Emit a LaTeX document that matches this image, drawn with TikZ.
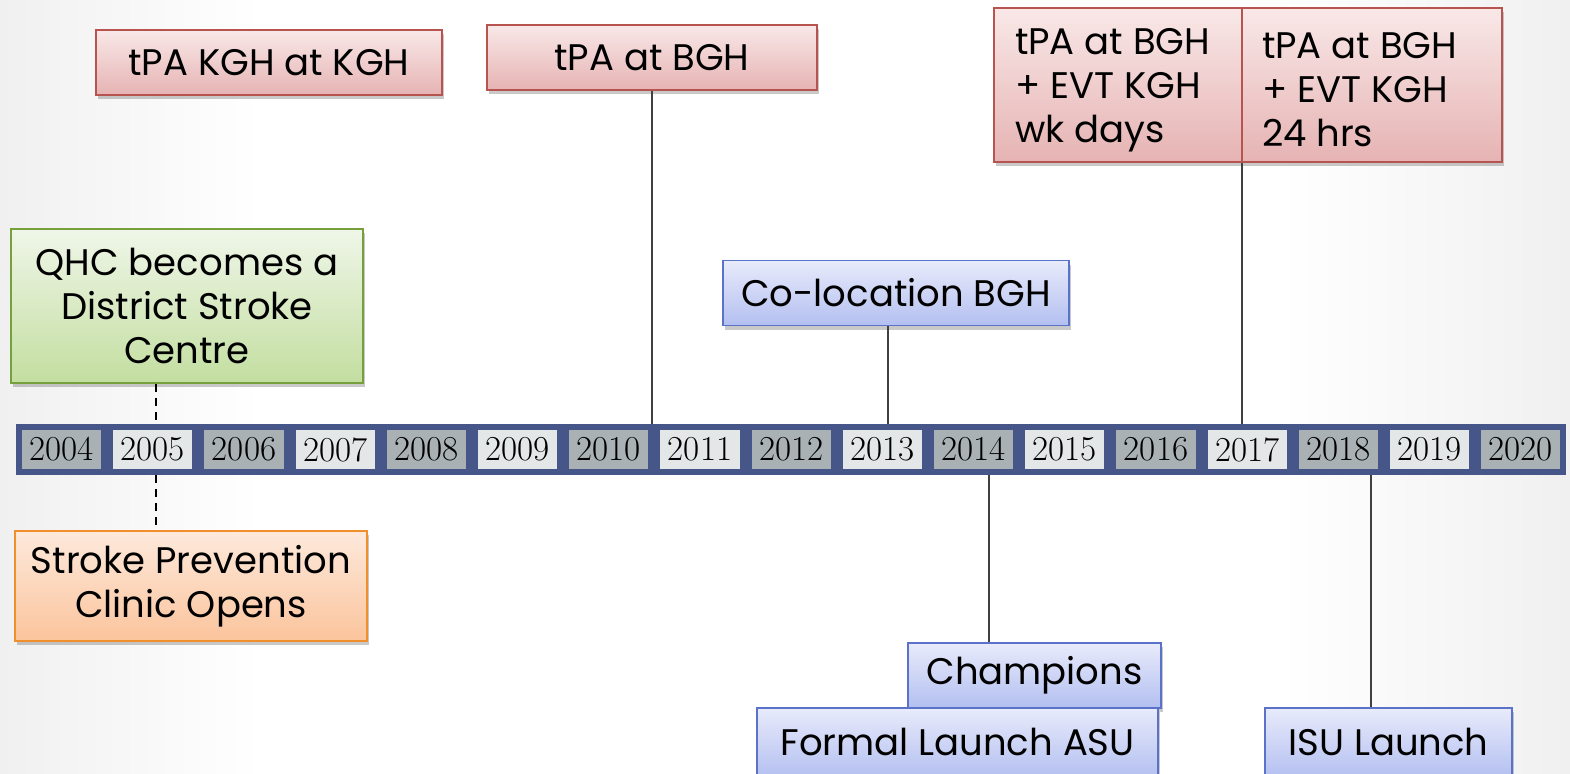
\documentclass[tikz,border=0pt]{standalone}
\usepackage{fontspec}
\newfontfamily\gothic{Poppins}
\usetikzlibrary{shadows,calc}
\definecolor{redline}{HTML}{B85450}
\definecolor{redtop}{HTML}{F9E8E8}
\definecolor{redbot}{HTML}{E6B3B3}
\definecolor{grnline}{HTML}{76A03C}
\definecolor{grntop}{HTML}{EFF6E8}
\definecolor{grnbot}{HTML}{C3DEA0}
\definecolor{orgline}{HTML}{F0902C}
\definecolor{orgtop}{HTML}{FDE9DC}
\definecolor{orgbot}{HTML}{FBC49C}
\definecolor{bluline}{HTML}{5A72C8}
\definecolor{blutop}{HTML}{E8EBFB}
\definecolor{blubot}{HTML}{B3BFF0}
\definecolor{cellline}{HTML}{465688}
\definecolor{celldark}{HTML}{A9B1B5}
\definecolor{celllight}{HTML}{E3E7E8}
\definecolor{conn}{HTML}{404040}
\definecolor{bgedge}{HTML}{F0F0F0}
\begin{document}
\begin{tikzpicture}[x=1pt,y=-1pt,
  evbox/.style={draw, line width=1.5pt, inner sep=0pt,
    font=\gothic\fontsize{37}{44}\selectfont,
    drop shadow={shadow xshift=2pt, shadow yshift=-4pt, opacity=0.35, fill=black!60}},
  redbox/.style={evbox, draw=redline, top color=redtop, bottom color=redbot},
  grnbox/.style={evbox, draw=grnline, top color=grntop, bottom color=grnbot},
  orgbox/.style={evbox, draw=orgline, top color=orgtop, bottom color=orgbot},
  blubox/.style={evbox, draw=bluline, top color=blutop, bottom color=blubot},
  yearcell/.style={draw=cellline, line width=6pt, minimum width=85.2pt, minimum height=45pt,
    inner sep=0pt, font=\fontsize{35}{35}\selectfont},
  yd/.style={yearcell, fill=celldark},
  yl/.style={yearcell, fill=celllight},
  link/.style={draw=conn, line width=1.5pt},
  dlink/.style={draw=black, line width=2pt, dash pattern=on 8pt off 6pt}
]
\useasboundingbox (0,0) rectangle (1570,773);
\fill[white] (0,0) rectangle (1570,773);
\shade[left color=bgedge, right color=white] (0,0) rectangle (260,773);
\shade[left color=white, right color=bgedge] (1280,0) rectangle (1570,773);

% timeline
\foreach \yr [count=\i from 0] in {2004,...,2020}{
  \pgfmathsetmacro\cx{16+91.2*(\i+0.5)}
  \pgfmathparse{mod(\i,2)==0 ? "yd" : "yl"}
  \edef\sty{\pgfmathresult}
  \node[\sty] (y\yr) at (\cx,449.5) {\yr};
}

% events
\node[redbox, minimum width=346pt, minimum height=65pt] (kgh) at (269,62.5) {tPA KGH at KGH};
\node[redbox, minimum width=330pt, minimum height=65pt] (bgh) at (652,57.5) {tPA at BGH};
\node[redbox, minimum width=248pt, minimum height=154pt] (evtw) at (1118,85)
  {\parbox{206pt}{\raggedright\vspace*{10pt}tPA at BGH\\+ EVT KGH\\wk days}};
\node[redbox, minimum width=260pt, minimum height=154pt] (evt24) at (1372,85)
  {\parbox{220pt}{\raggedright\vspace*{10pt}tPA at BGH\\+ EVT KGH\\24 hrs}};
\node[grnbox, minimum width=352pt, minimum height=154pt, align=center] (qhc) at (187,306) {QHC becomes a\\District Stroke\\Centre};
\node[orgbox, minimum width=352pt, minimum height=110pt, align=center] (spc) at (191,586) {Stroke Prevention\\Clinic Opens};
\node[blubox, minimum width=346pt, minimum height=65pt] (coloc) at (896,293) {Co-location BGH};
\node[blubox, minimum width=253pt, minimum height=65pt] (champ) at (1034.5,675.5) {Champions};
\node[blubox, minimum width=401pt, minimum height=70pt] (asu) at (957.5,743) {\raisebox{2pt}{Formal Launch ASU}};
\node[blubox, minimum width=247pt, minimum height=70pt] (isu) at (1388.5,743) {\raisebox{2pt}{ISU Launch}};

% connectors
\coordinate (xbgh) at (652,0);
\coordinate (xevt) at (1242,0);
\coordinate (xcol) at (888,0);
\coordinate (xcha) at (989,0);
\coordinate (xisu) at (1371,0);
\coordinate (xqhc) at (156,0);
\draw[link] (xbgh |- bgh.south) -- (xbgh |- y2010.north);
\draw[link] (xevt |- evtw.south) -- (xevt |- y2017.north);
\draw[link] (xcol |- coloc.south) -- (xcol |- y2013.north);
\draw[link] (xcha |- y2014.south) -- (xcha |- champ.north);
\draw[link] (xisu |- y2018.south) -- (xisu |- isu.north);
\draw[dlink] (xqhc |- qhc.south) -- (xqhc |- y2005.north);
\draw[dlink] (xqhc |- y2005.south) -- (xqhc |- spc.north);
\end{tikzpicture}
\end{document}
